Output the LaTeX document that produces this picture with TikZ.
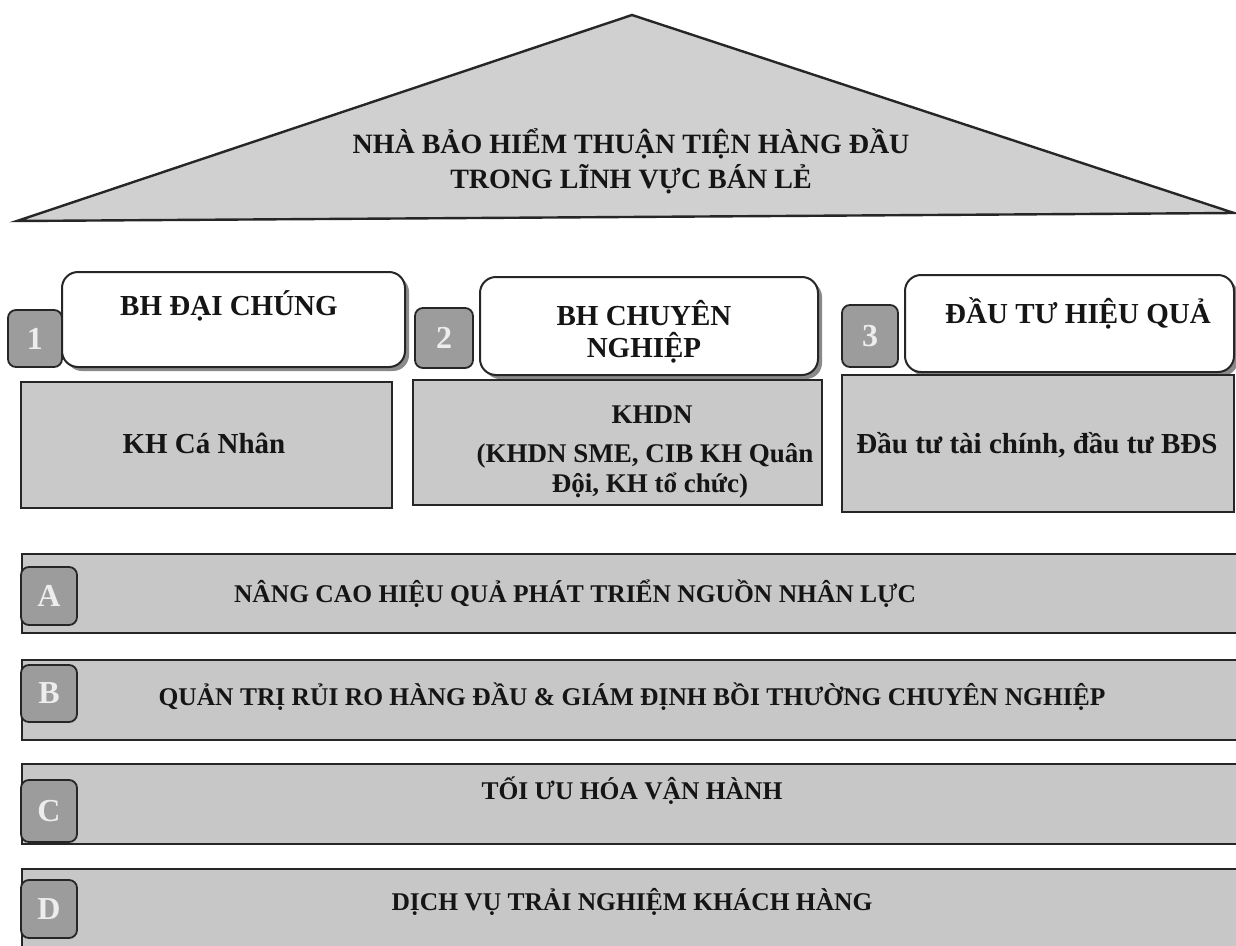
\documentclass[tikz,border=0pt]{standalone}
\usepackage{fontspec}
\setmainfont{Liberation Serif}
\definecolor{trifill}{HTML}{D0D0D0}
\definecolor{boxfill}{HTML}{C9C9C9}
\definecolor{barfill}{HTML}{C7C7C7}
\definecolor{badgefill}{HTML}{9C9C9C}
\definecolor{edge}{HTML}{262626}
\definecolor{shadowc}{HTML}{8A8A8A}
\definecolor{ink}{HTML}{151515}
\begin{document}
\begin{tikzpicture}[x=1pt,y=-1pt,
  roof/.style={fill=trifill, draw=edge, line width=2.4pt, line join=miter},
  titlebox/.style={fill=white, draw=edge, line width=2pt, rounded corners=16pt},
  titleshadow/.style={fill=shadowc, rounded corners=16pt},
  badge/.style={fill=badgefill, draw=edge, line width=1.8pt, rounded corners=8pt},
  graybox/.style={fill=boxfill, draw=edge, line width=2pt},
  bar/.style={fill=barfill, draw=edge, line width=2pt},
  rooftext/.style={font=\fontsize{28}{33}\selectfont\bfseries, text=ink, inner sep=0pt, anchor=base},
  boxtext/.style={font=\fontsize{29}{35}\selectfont\bfseries, text=ink, inner sep=0pt, anchor=base},
  smallboxtext/.style={font=\fontsize{27}{33}\selectfont\bfseries, text=ink, inner sep=0pt, anchor=base},
  bartext/.style={font=\fontsize{25.5}{30}\selectfont\bfseries, text=ink, inner sep=0pt, anchor=base},
  badgetext/.style={font=\fontsize{32}{36}\selectfont\bfseries, text=white!93!black, inner sep=0pt},
]
\useasboundingbox (0,0) rectangle (1236,945);
\fill[white] (0,0) rectangle (1236,945);

% roof
\draw[roof] (17,221) -- (632,15) -- (1234,213) -- cycle;
\node[rooftext] (goal1) at (631,153) {NHÀ BẢO HIỂM THUẬN TIỆN HÀNG ĐẦU};
\node[rooftext] (goal2) at (631,188) {TRONG LĨNH VỰC BÁN LẺ};

% pillar 1
\fill[titleshadow] (66,276) rectangle (409,371);
\draw[titlebox] (62,272) rectangle (405,367);
\draw[badge] (8,310) rectangle (62,367);
\node[badgetext] (n1) at (35,338.5) {1};
\node[boxtext] (p1title) at (229,315) {BH ĐẠI CHÚNG};
\draw[graybox] (21,382) rectangle (392,508);
\node[boxtext] (p1body) at (204,453) {KH Cá Nhân};

% pillar 2
\fill[titleshadow] (484,281) rectangle (822,379);
\draw[titlebox] (480,277) rectangle (818,375);
\draw[badge] (415,308) rectangle (473,368);
\node[badgetext] (n2) at (444,338) {2};
\node[boxtext] (p2title1) at (644,325) {BH CHUYÊN};
\node[boxtext] (p2title2) at (644,357) {NGHIỆP};
\draw[graybox] (413,380) rectangle (822,505);
\node[smallboxtext] (p2body1) at (652,423) {KHDN};
\node[smallboxtext] (p2body2) at (645,462) {(KHDN SME, CIB KH Quân};
\node[smallboxtext] (p2body3) at (650,492) {Đội, KH tổ chức)};

% pillar 3
\fill[titleshadow] (909,279) rectangle (1238,376);
\draw[titlebox] (905,275) rectangle (1234,372);
\draw[badge] (842,305) rectangle (898,367);
\node[badgetext] (n3) at (870,336) {3};
\node[boxtext] (p3title) at (1078,323) {ĐẦU TƯ HIỆU QUẢ};
\draw[graybox] (842,375) rectangle (1234,512);
\node[boxtext] (p3body) at (1037,453) {Đầu tư tài chính, đầu tư BĐS};

% foundation bars
\draw[bar] (22,554) rectangle (1242,633);
\draw[badge] (21,567) rectangle (77,625);
\node[badgetext] (nA) at (49,596) {A};
\node[bartext] (barA) at (575,602) {NÂNG CAO HIỆU QUẢ PHÁT TRIỂN NGUỒN NHÂN LỰC};

\draw[bar] (22,660) rectangle (1242,740);
\draw[badge] (21,665) rectangle (77,722);
\node[badgetext] (nB) at (49,693.5) {B};
\node[bartext] (barB) at (632,705) {QUẢN TRỊ RỦI RO HÀNG ĐẦU \& GIÁM ĐỊNH BỒI THƯỜNG CHUYÊN NGHIỆP};

\draw[bar] (22,764) rectangle (1242,844);
\draw[badge] (21,780) rectangle (77,842);
\node[badgetext] (nC) at (49,811) {C};
\node[bartext] (barC) at (632,799) {TỐI ƯU HÓA VẬN HÀNH};

\draw[bar] (22,869) rectangle (1242,952);
\draw[badge] (21,880) rectangle (77,938);
\node[badgetext] (nD) at (49,909) {D};
\node[bartext] (barD) at (632,910) {DỊCH VỤ TRẢI NGHIỆM KHÁCH HÀNG};
\end{tikzpicture}
\end{document}
